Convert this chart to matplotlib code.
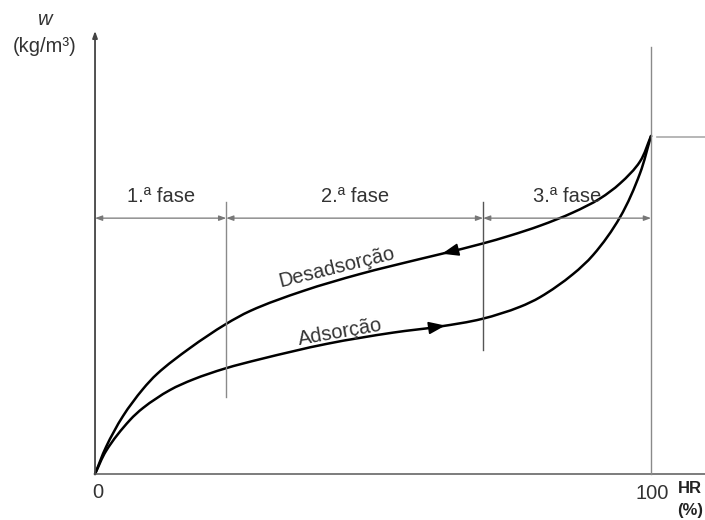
import numpy as np
import matplotlib
matplotlib.use("Agg")
from matplotlib import pyplot as plt
from matplotlib.path import Path
from matplotlib.patches import PathPatch

# sorption isotherm: water content w vs relative humidity HR
hr_des = [0, 1.98, 5.04, 8.63, 11.15, 17.09, 23.56, 27.88, 37.41, 47.66,
          58.45, 62.59, 69.60, 74.64, 80.04, 85.97, 90.83, 94.42, 98.02, 100]
w_des = [0, 7.99, 17.16, 25.15, 29.59, 37.28, 44.38, 48.22, 54.14, 59.17,
         63.61, 65.24, 68.14, 70.53, 73.46, 77.37, 81.51, 85.95, 92.46, 100]

hr_ads = [0, 1.98, 6.29, 8.63, 13.49, 17.63, 23.38, 29.68, 41.73, 53.60,
          62.05, 69.60, 76.44, 80.04, 85.97, 89.57, 94.42, 98.02, 100]
w_ads = [0, 6.80, 15.98, 19.53, 24.85, 27.96, 31.21, 33.96, 38.52, 41.83,
         43.64, 45.89, 49.47, 52.31, 59.14, 64.76, 75.95, 88.96, 100]

phase_bounds = [0, 23.6, 69.8, 100]
phase_labels = ['1.ª fase', '2.ª fase', '3.ª fase']

plt.rcParams['font.family'] = ['Liberation Sans', 'DejaVu Sans']

fig = plt.figure(figsize=(7.05, 5.2), dpi=100)
ax = fig.add_axes([0, 0, 1, 1])
ax.set_xlim(-17.09, 109.71)
ax.set_ylim(-13.61, 140.24)
ax.axis('off')

grey = '#8a8a8a'
txt = '#333333'


def smooth_path(xs, ys):
    # cubic Bezier through the points; tangents from the mean of the
    # neighbouring chord directions, handles a third of each chord
    p = ax.transData.transform(np.column_stack([xs, ys]))
    d = np.diff(p, axis=0)
    L = np.hypot(d[:, 0], d[:, 1])
    u = d / L[:, None]
    t = np.vstack([u[0], u[:-1] + u[1:], u[-1]])
    t /= np.hypot(t[:, 0], t[:, 1])[:, None]
    verts = [p[0]]
    codes = [Path.MOVETO]
    for i in range(len(p) - 1):
        verts += [p[i] + t[i] * L[i] / 3, p[i + 1] - t[i + 1] * L[i] / 3, p[i + 1]]
        codes += [Path.CURVE4] * 3
    verts = ax.transData.inverted().transform(np.array(verts))
    return Path(verts, codes)


# axes
ax.annotate('', xy=(0, 131.1), xytext=(0, 0),
            arrowprops=dict(arrowstyle='-|>,head_length=0.5,head_width=0.18',
                            mutation_scale=8, color='#444444', lw=1.3,
                            shrinkA=0, shrinkB=0))
ax.plot([0, 109.71], [0, 0], color='#666666', lw=1.2)
ax.plot([100, 100], [0, 126.3], color=grey, lw=1.0)
ax.plot([101.1, 109.71], [99.7, 99.7], color='#aaaaaa', lw=1.2)

# phase dividers and dimension arrows
ax.plot([phase_bounds[1]] * 2, [22.8, 80.5], color=grey, lw=1.0)
ax.plot([phase_bounds[2]] * 2, [36.7, 80.5], color='#555555', lw=1.0)
y_dim = 75.7
for a, b, lab in zip(phase_bounds[:-1], phase_bounds[1:], phase_labels):
    ax.annotate('', xy=(b, y_dim), xytext=(a, y_dim),
                arrowprops=dict(arrowstyle='<|-|>,head_length=0.6,head_width=0.22',
                                mutation_scale=7, color='#777777', lw=0.9,
                                shrinkA=0, shrinkB=0))
    ax.text((a + b) / 2, 82.2, lab, ha='center', va='center',
            fontsize=14.5, color=txt)

# curves
for hx, hy in [(hr_des, w_des), (hr_ads, w_ads)]:
    ax.add_patch(PathPatch(smooth_path(hx, hy), fill=False, edgecolor='black',
                           lw=1.8, capstyle='round', joinstyle='round'))


def curve_arrow(hx, hy, tip, direction):
    tail = tip - direction * 2.5
    ax.annotate('', xy=(tip, np.interp(tip, hx, hy)),
                xytext=(tail, np.interp(tail, hx, hy)),
                arrowprops=dict(arrowstyle='-|>,head_length=0.85,head_width=0.32',
                                mutation_scale=12, color='black', lw=1.2,
                                shrinkA=0, shrinkB=0))


curve_arrow(hr_des, w_des, 62.4, -1)
curve_arrow(hr_ads, w_ads, 63.0, 1)

ax.text(43.5, 61.2, 'Desadsorção', rotation=14, ha='center', va='center',
        fontsize=14.5, color=txt, rotation_mode='anchor')
ax.text(44.1, 42.0, 'Adsorção', rotation=10, ha='center', va='center',
        fontsize=14.5, color=txt, rotation_mode='anchor')

# axis labels
ax.text(-9.0, 134.5, 'w', ha='center', va='center', fontsize=14.5,
        style='italic', color=txt)
ax.text(-9.0, 126.5, '(kg/m³)', ha='center', va='center', fontsize=14.5,
        color=txt)
ax.text(0.5, -5.6, '0', ha='center', va='center', fontsize=14.5, color=txt)
ax.text(100.2, -5.9, '100', ha='center', va='center', fontsize=14.5, color=txt)
ax.text(107.0, -4.4, 'HR', ha='center', va='center', fontsize=12,
        fontweight='bold', color='#222222')
ax.text(107.0, -10.9, '(%)', ha='center', va='center', fontsize=12,
        fontweight='bold', color='#222222')

fig.savefig('out.png', dpi=100)
